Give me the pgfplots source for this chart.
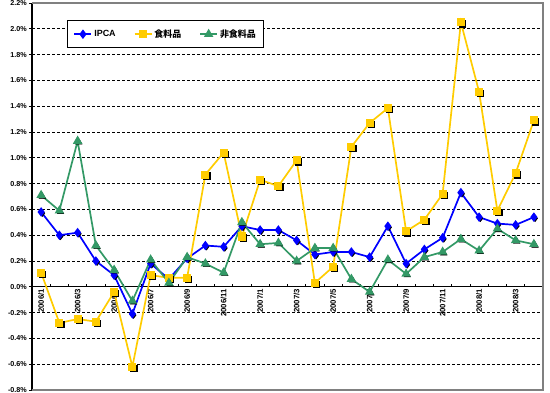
\documentclass[border=0pt]{standalone}
\usepackage{pgfplots}
\pgfplotsset{compat=1.18}
\usepackage{pgfplotstable}
\usepackage{fontspec}
\setmainfont{Liberation Sans}
\newfontfamily\jp{Noto Sans CJK JP}
\definecolor{cblue}{HTML}{0000FF}
\definecolor{cyel}{HTML}{FFCC00}
\definecolor{cgreen}{HTML}{339966}
\definecolor{cgray}{HTML}{808080}

\pgfplotstableread{
x ipca food nonfood
0 0.58 0.11 0.71
1 0.40 -0.28 0.59
2 0.42 -0.25 1.13
3 0.20 -0.27 0.32
4 0.09 -0.04 0.13
5 -0.21 -0.62 -0.11
6 0.18 0.09 0.21
7 0.06 0.07 0.03
8 0.22 0.07 0.23
9 0.32 0.87 0.18
10 0.31 1.04 0.11
11 0.47 0.39 0.50
12 0.44 0.83 0.33
13 0.44 0.78 0.34
14 0.36 0.98 0.20
15 0.25 0.03 0.30
16 0.27 0.155 0.30
17 0.27 1.085 0.06
18 0.23 1.27 -0.04
19 0.47 1.385 0.21
20 0.18 0.43 0.10
21 0.29 0.52 0.23
22 0.38 0.72 0.27
23 0.73 2.05 0.37
24 0.54 1.51 0.28
25 0.49 0.59 0.45
26 0.48 0.88 0.36
27 0.54 1.29 0.33
}\data

\begin{document}
\begin{tikzpicture}
\useasboundingbox (0,0) rectangle (550bp,393bp);
\begin{axis}[
  at={(32bp,3bp)}, anchor=south west,
  scale only axis, width=511bp, height=387bp,
  xmin=-0.5, xmax=27.5, ymin=-0.8, ymax=2.2,
  axis x line*=middle, axis y line*=left,
  x axis line style={black, line width=1.1bp},
  y axis line style={black, line width=1.4bp},
  xtick={0,2,...,26},
  xticklabels={2006/1,2006/3,2006/5,2006/7,2006/9,2006/11,2007/1,2007/3,2007/5,2007/7,2007/9,2007/11,2008/1,2008/3},
  major x tick style={draw=none},
  minor xtick={-0.5,0.5,...,27.5},
  minor x tick style={black, line width=0.8bp},
  xtick align=inside,
  minor tick length=3bp,
  major tick length=3bp,
  xticklabel style={rotate=90, anchor=east, font=\fontsize{7.8}{8}\selectfont\bfseries, inner sep=2bp},
  ytick={-0.8,-0.6,-0.4,-0.2,0,0.2,0.4,0.6,0.8,1.0,1.2,1.4,1.6,1.8,2.0,2.2},
  ytick align=outside,
  y tick style={black, line width=0.8bp},
  yticklabel={\pgfmathprintnumber[fixed,fixed zerofill,precision=1]{\tick}\%},
  yticklabel style={font=\fontsize{7.2}{8}\selectfont\bfseries, inner sep=2bp},
  /pgf/number format/assume math mode=true,
  ymajorgrids,
  major grid style={black, dash pattern=on 3bp off 2bp, line width=0.8bp},
  legend style={at={(0.0685,0.956)}, anchor=north west, draw=black, line width=1.2bp,
    fill=white, font=\fontsize{9}{10}\selectfont\bfseries, inner xsep=6bp, inner ysep=7bp,
    /tikz/every even column/.append style={column sep=16bp}},
  legend columns=3,
  clip=false,
]
\draw[cgray, line width=1.2bp] (rel axis cs:0,0) -- (rel axis cs:1,0) -- (rel axis cs:1,1) -- (rel axis cs:0,1);
% IPCA
\addplot[forget plot, only marks, mark=diamond*, mark size=3.4bp, black,
  mark options={xshift=1.2bp, yshift=-1.2bp}] table[x=x, y=ipca] {\data};
\addplot[cblue, line width=1.7bp, mark=diamond*, mark size=3.4bp,
  mark options={solid, fill=cblue, draw=cblue}] table[x=x, y=ipca] {\data};
\addlegendentry{IPCA}
% food
\addplot[forget plot, only marks, mark=square*, mark size=3.2bp, black,
  mark options={xshift=1.3bp, yshift=-1.3bp}] table[x=x, y=food] {\data};
\addplot[cyel, line width=1.7bp, mark=square*, mark size=3.2bp,
  mark options={solid, fill=cyel, draw=cyel}] table[x=x, y=food] {\data};
\addlegendentry{\jp 食料品}
% nonfood
\addplot[forget plot, only marks, mark=triangle*, mark size=3.8bp, black,
  mark options={xshift=1.2bp, yshift=-1.2bp}] table[x=x, y=nonfood] {\data};
\addplot[cgreen, line width=1.7bp, mark=triangle*, mark size=3.8bp,
  mark options={solid, fill=cgreen, draw=cgreen}] table[x=x, y=nonfood] {\data};
\addlegendentry{\jp 非食料品}
\end{axis}
\end{tikzpicture}
\end{document}
